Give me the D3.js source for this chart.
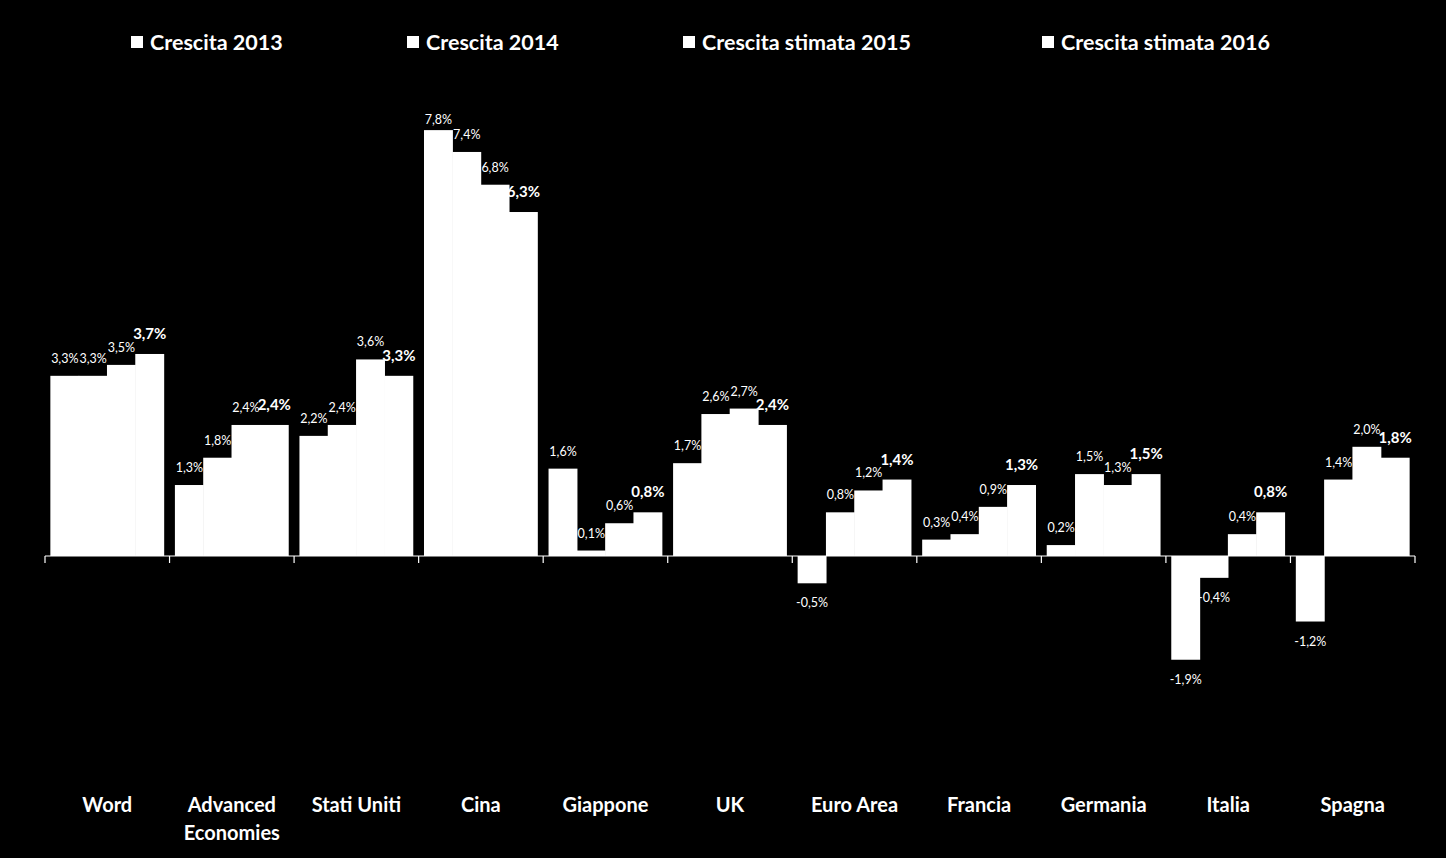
<!DOCTYPE html>
<html><head><meta charset="utf-8">
<script src="https://cdn.jsdelivr.net/npm/d3@7/dist/d3.min.js"></script>
<style>
html,body{margin:0;padding:0;background:#000;}
svg{display:block;}
text{font-family:Lato, "Open Sans", sans-serif;fill:#fff;}
</style></head>
<body>
<svg id="chart" width="1446" height="858"></svg>
<script>
const categories = ["Word","Advanced Economies","Stati Uniti","Cina","Giappone","UK","Euro Area","Francia","Germania","Italia","Spagna"];
const seriesNames = ["Crescita 2013","Crescita 2014","Crescita stimata 2015","Crescita stimata 2016"];
const s2013 = [3.3, 1.3, 2.2, 7.8, 1.6, 1.7, -0.5, 0.3, 0.2, -1.9, -1.2];
const s2014 = [3.3, 1.8, 2.4, 7.4, 0.1, 2.6, 0.8, 0.4, 1.5, -0.4, 1.4];
const s2015 = [3.5, 2.4, 3.6, 6.8, 0.6, 2.7, 1.2, 0.9, 1.3, 0.4, 2.0];
const s2016 = [3.7, 2.4, 3.3, 6.3, 0.8, 2.4, 1.4, 1.3, 1.5, 0.8, 1.8];
const seriesValues = [s2013, s2014, s2015, s2016];

const svg = d3.select("#chart");
const W = 1446, H = 858;
svg.append("rect").attr("width", W).attr("height", H).attr("fill", "#000");

const x0 = d3.scaleBand().domain(categories).range([45, 1415]).padding(0);
const x1 = d3.scaleBand().domain(seriesNames).range([0, x0.bandwidth()]).paddingInner(0).paddingOuter(0.2);
const pxPer = 54.6;
const y = d3.scaleLinear().domain([-3.5, 8.5]).range([556 + 3.5 * pxPer, 556 - 8.5 * pxPer]);

const fmt = v => (v < 0 ? "-" : "") + d3.format(".1f")(Math.abs(v)).replace(".", ",") + "%";

// bars
const data = [];
categories.forEach((c, i) => {
  seriesNames.forEach((s, j) => {
    data.push({cat: c, ser: s, j: j, v: seriesValues[j][i]});
  });
});

svg.append("g").selectAll("rect").data(data).join("rect")
  .attr("x", d => x0(d.cat) + x1(d.ser) - 0.3)
  .attr("width", x1.bandwidth() + 0.6)
  .attr("y", d => Math.min(y(d.v), y(0)))
  .attr("height", d => Math.abs(y(d.v) - y(0)))
  .attr("fill", "#fff");

// axis line and ticks
const ax = svg.append("g");
ax.append("line").attr("x1", x0.range()[0]).attr("x2", x0.range()[1])
  .attr("y1", y(0)).attr("y2", y(0)).attr("stroke", "#fff").attr("stroke-width", 1.2);
const tickPos = categories.map(c => x0(c)).concat([x0.range()[1]]);
ax.selectAll("line.tick").data(tickPos).join("line").attr("class", "tick")
  .attr("x1", d => d).attr("x2", d => d).attr("y1", y(0)).attr("y2", y(0) + 7)
  .attr("stroke", "#fff").attr("stroke-width", 1.2);

// data labels
svg.append("g").selectAll("text").data(data).join("text")
  .attr("x", d => x0(d.cat) + x1(d.ser) + x1.bandwidth() / 2)
  .attr("y", d => {
    if (d.v < 0) return y(d.v) + 24;
    let off = d.j === 3 ? 15 : 13;
    return Math.max(y(d.v) - off, 124);
  })
  .attr("text-anchor", "middle")
  .attr("font-size", d => d.j === 3 ? 15 : 12.5)
  .attr("font-weight", d => d.j === 3 ? "bold" : "normal")
  .text(d => fmt(d.v));

// category labels
const catG = svg.append("g");
categories.forEach(c => {
  const cx = x0(c) + x0.bandwidth() / 2;
  const words = c === "Advanced Economies" ? ["Advanced", "Economies"] : [c];
  words.forEach((w, k) => {
    catG.append("text").attr("x", cx).attr("y", 812 + k * 28)
      .attr("text-anchor", "middle").attr("font-size", 20).attr("font-weight", "bold")
      .text(w);
  });
});

// legend
const legX = [131, 407, 683, 1042];
const leg = svg.append("g");
seriesNames.forEach((s, i) => {
  leg.append("rect").attr("x", legX[i]).attr("y", 36).attr("width", 12).attr("height", 12).attr("fill", "#fff");
  leg.append("text").attr("x", legX[i] + 19).attr("y", 50).attr("font-size", 21.5).attr("font-weight", "bold").text(s);
});
</script>
</body></html>
